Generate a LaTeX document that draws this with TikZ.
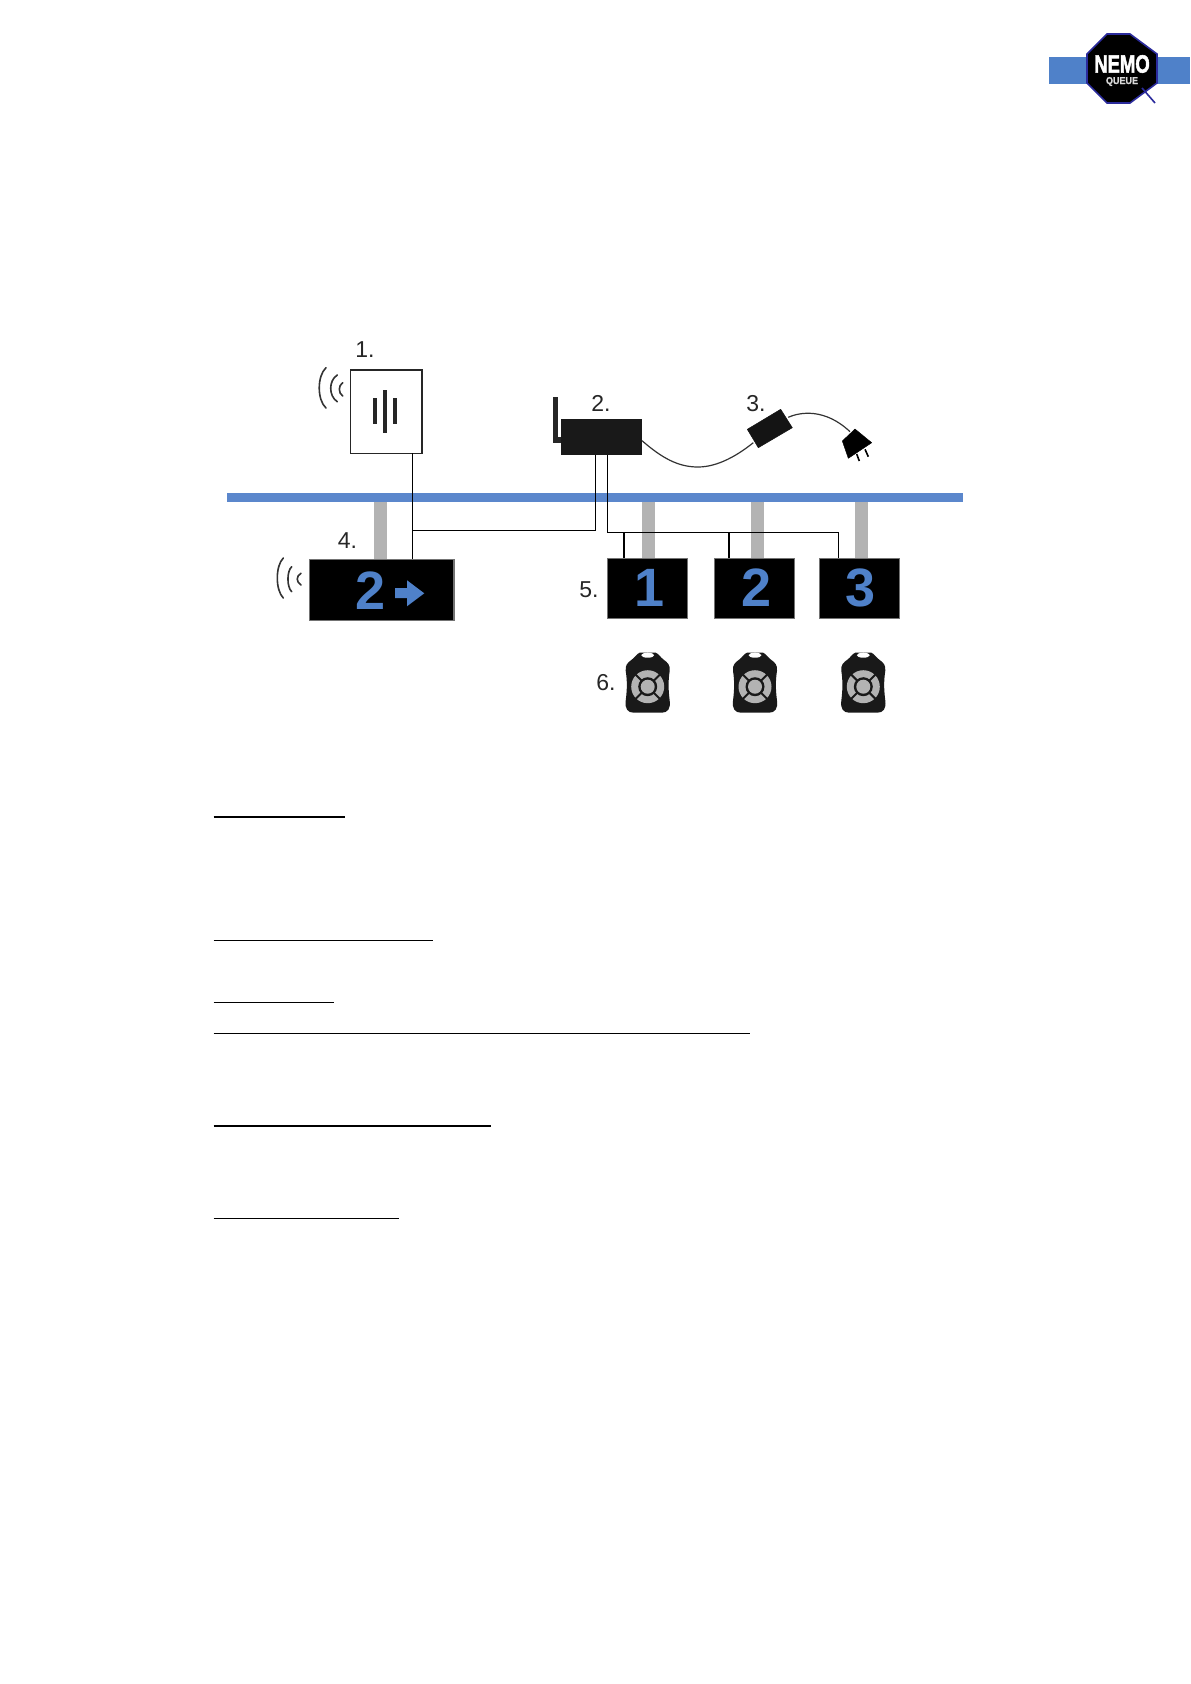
\documentclass[tikz,border=0pt]{standalone}
\usepackage{fontspec}
\setmainfont{Liberation Sans}
\definecolor{railblue}{HTML}{5B87CC}
\definecolor{digitblue}{HTML}{4F81C9}
\definecolor{postgrey}{HTML}{B3B3B3}
\definecolor{logoline}{HTML}{2B2B9C}
\tikzset{
  x=1pt,y=-1pt,
  box/.style={rectangle,inner sep=0pt,outer sep=0pt},
  screen/.style={box,fill=black,draw=black!55,line width=1.5pt,minimum height=60pt},
  num/.style={inner sep=0pt,font=\fontsize{23}{23}\selectfont,text=black!85},
  bigdigit/.style={inner sep=0pt,font=\fontsize{54}{54}\selectfont\bfseries,text=digitblue},
  wire/.style={draw=black,line width=1.3pt},
  wave/.style={draw=black!80,line width=1.6pt,line cap=round},
  post/.style={fill=postgrey,draw=none},
  rule/.style={draw=black,line width=1.2pt},
  thickrule/.style={draw=black,line width=2pt},
  remote/.pic={
    \fill[black!90] (-8,-34) -- (8,-34) .. controls (11,-33) and (13,-29) .. (16,-27)
      .. controls (20,-24) and (22.5,-22) .. (22,-16)
      .. controls (20.5,-6) and (20.5,2) .. (22,14)
      .. controls (23,22) and (20,26) .. (14,26)
      -- (-14,26) .. controls (-20,26) and (-23,22) .. (-22,14)
      .. controls (-20.5,2) and (-20.5,-6) .. (-22,-16)
      .. controls (-22.5,-22) and (-20,-24) .. (-16,-27)
      .. controls (-13,-29) and (-11,-33) .. (-8,-34) -- cycle;
    \fill[white] (0,-31.5) ellipse [x radius=6.5,y radius=2.5];
    \fill[postgrey] (0,0) circle [radius=16.5];
    \draw[black!90,line width=2pt] (-13,-13) -- (13,13) (-13,13) -- (13,-13);
    \fill[black!90] (0,0) circle [radius=9.5];
    \fill[postgrey] (0,0) circle [radius=7];
  }
}
\begin{document}
\begin{tikzpicture}
\useasboundingbox[fill=white] (0,0) rectangle (1191,1684);

% logo
\fill[digitblue] (1049,56.7) rectangle (1190,84);
\filldraw[draw=logoline,fill=black,line width=1.6pt]
  (1107,34) -- (1130,34) -- (1157,54) -- (1157,83) -- (1130,103) -- (1107,103) -- (1087,83) -- (1087,54) -- cycle;
\coordinate (lensa) at (1142,88);
\coordinate (lensb) at (1155,103);
\draw[draw=logoline,line width=1.6pt] (lensa) -- (lensb);
\node[inner sep=0pt,text=white,font=\fontsize{25}{25}\selectfont\bfseries\addfontfeature{FakeBold=2.5},xscale=.74] (logotext) at (1122,64) {NEMO};
\node[inner sep=0pt,text=white!85!black,font=\fontsize{10}{10}\selectfont\bfseries\addfontfeature{FakeBold=2},xscale=.9] (logosub) at (1122,81.5) {QUEUE};

% rail
\fill[railblue] (227.3,493.3) rectangle (962.7,502.3);

% device nodes
\node[box,draw=black!85,fill=white,line width=1.1pt,minimum width=71.3pt,minimum height=83.3pt] (sensor) at (386.35,411.65) {};
\node[box,fill=black!90,minimum width=81pt,minimum height=35.4pt] (router) at (601.5,437) {};
\node[screen,minimum width=144.7pt,minimum height=61.4pt] (sign) at (381.65,590) {};
\node[screen,minimum width=79.6pt] (disp1) at (647.5,588.3) {};
\node[screen,minimum width=80pt] (disp2) at (754.3,588.3) {};
\node[screen,minimum width=80pt] (disp3) at (859.3,588.3) {};

% posts
\fill[post] (374.3,502.3) rectangle (387.3,559);
\fill[post] (641.7,502.3) rectangle (655,557.5);
\fill[post] (750.7,502.3) rectangle (764,557.5);
\fill[post] (855,502.3) rectangle (868.3,557.5);

% sensor bars
\fill[black!85] (372.7,398) rectangle (376.7,424);
\fill[black!85] (383,390) rectangle (387,432.7);
\fill[black!85] (393.3,398) rectangle (397.3,424);

% router antenna
\fill[black!85] (553.3,397) rectangle (558.3,442.7);
\fill[black!85] (558.3,437) rectangle (561,442.7);

% adapter and plug
\filldraw[fill=black!92,draw=black!92,line width=.5pt,line join=round] (747.3,429.3) -- (780.7,409.3) -- (792.3,427.7) -- (758.3,447.7) -- cycle;
\coordinate (adapterin) at (753.3,442.7);
\coordinate (adapterout) at (788.3,417.3);
\filldraw[fill=black,draw=black,line join=round] (855,429) -- (871.7,442.7) -- (848.3,458.3) -- (842.3,441) -- cycle;
\coordinate (plugin) at (850,431.7);
\coordinate (prongaa) at (856.7,454);
\coordinate (prongab) at (859.3,461);
\coordinate (prongba) at (865,449.3);
\coordinate (prongbb) at (868.3,456.7);
\draw[black,line width=1.6pt] (prongaa) -- (prongab) (prongba) -- (prongbb);
\draw[black!80,line width=1.2pt] (router.east |- 0,440.7) .. controls (662,458) and (678,467) .. (698,467)
   .. controls (718,467) and (738,455) .. (adapterin);
\draw[black!80,line width=1.2pt] (adapterout) .. controls (800,412) and (825,408) .. (plugin);

% wires
\coordinate (jsensor) at (412.3,530.7);
\coordinate (jrouter) at (595.7,530.7);
\coordinate (jbus) at (607.3,532.7);
\coordinate (jd1) at (624,532.7);
\coordinate (jd2) at (729,532.7);
\coordinate (jd3) at (838.3,532.7);
\draw[wire] (sensor.south -| jsensor) -- (sign.north -| jsensor);
\draw[wire] (jsensor) -- (jrouter) -- (router.south -| jrouter);
\draw[wire] (router.south -| jbus) -- (jbus) -- (jd3) -- (disp3.north -| jd3);
\draw[wire] (jd1) -- (disp1.north -| jd1);
\draw[wire] (jd2) -- (disp2.north -| jd2);

% waves
\draw[wave] (326,367.7) .. controls (317,376) and (317,400) .. (326,408);
\draw[wave] (337.3,375) .. controls (328.5,380.5) and (328.5,396) .. (337.3,401.7);
\draw[wave] (342.7,382.7) .. controls (338.2,385.5) and (338.2,393) .. (342.7,396);
\draw[wave] (283.3,558) .. controls (275.3,566) and (275.3,590) .. (283.3,598);
\draw[wave] (291.7,566.7) .. controls (286.7,571) and (286.7,587) .. (291.7,591.7);
\draw[wave] (301,573.3) .. controls (296,576) and (296,582) .. (301,585);

% display contents
\node[bigdigit] (signdigit) at (370.7,590.5) {2};
\fill[digitblue] (395,588) -- (407,588) -- (407,580.3) -- (424.3,593.3) -- (407,606.3) -- (407,598) -- (395,598) -- cycle;
\node[bigdigit] (d1digit) at (650,587.5) {1};
\node[bigdigit] (d2digit) at (757,587.5) {2};
\node[bigdigit] (d3digit) at (861,587.5) {3};

% remotes
\pic at (647.7,686.7) {remote};
\pic at (755,686.7) {remote};
\pic at (863.3,686.7) {remote};

% labels
\node[num] (l1) at (365,349.5) {1.};
\node[num] (l2) at (601,403.5) {2.};
\node[num] (l3) at (756,403.5) {3.};
\node[num] (l4) at (347.5,541) {4.};
\node[num] (l5) at (589,590) {5.};
\node[num] (l6) at (606,683) {6.};

% underlines
\draw[thickrule] (213.6,817) -- (344.6,817);
\draw[rule] (213.6,940.5) -- (432.9,940.5);
\draw[rule] (213.6,1002.5) -- (334,1002.5);
\draw[rule] (213.6,1033.5) -- (749.6,1033.5);
\draw[thickrule] (213.6,1126) -- (491,1126);
\draw[rule] (213.6,1218.5) -- (398.6,1218.5);
\end{tikzpicture}
\end{document}
